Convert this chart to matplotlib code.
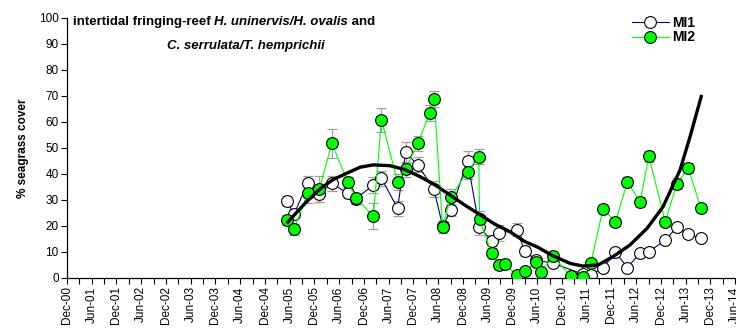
import pandas as pd
import matplotlib
matplotlib.use('Agg')
import matplotlib.pyplot as plt
import matplotlib.dates as mdates

plt.rcParams['font.family'] = ['Liberation Sans', 'DejaVu Sans']

# MI1 - даты обследований и покрытие (%)
mi1_dates = ['2005-05-10', '2005-07-04', '2005-10-12', '2006-01-07', '2006-04-07',
             '2006-08-03', '2006-10-04', '2007-02-09', '2007-04-10', '2007-08-07',
             '2007-10-05', '2008-01-01', '2008-05-01', '2008-07-04', '2008-09-04',
             '2009-01-04', '2009-04-01', '2009-07-01', '2009-08-27', '2010-01-03',
             '2010-03-01', '2010-05-25', '2010-09-29', '2011-05-05', '2011-07-04',
             '2011-10-01', '2012-01-01', '2012-03-29', '2012-06-30', '2012-09-01',
             '2013-01-02', '2013-03-29', '2013-06-22', '2013-09-22']
mi1_cover = [29.6, 24.6, 36.4, 32.3, 36.4, 32.6, 30.5, 35.8, 38.3, 26.8,
             48.3, 43.6, 34.2, 20.0, 26.0, 45.0, 19.5, 14.4, 17.2, 18.5,
             10.5, 6.9, 5.6, 1.5, 1.2, 3.9, 9.9, 4.0, 9.7, 10.1,
             14.5, 19.5, 16.8, 15.3]
mi1_err = [2, 2, 3, 3, 3, 2, 2, 3, 3, 3, 4, 3, 3, 2, 2, 4, 3, 2, 3, 2.5,
           2, 1, 1, 0.5, 0.5, 0.5, 1, 0.5, 1, 1, 1, 1, 1, 1]

# MI2
mi2_dates = ['2005-05-10', '2005-07-04', '2005-10-12', '2006-01-07', '2006-04-09',
             '2006-08-03', '2006-10-04', '2007-02-09', '2007-04-10', '2007-08-07',
             '2007-10-05', '2008-01-03', '2008-04-01', '2008-05-03', '2008-07-04',
             '2008-09-04', '2009-01-04', '2009-03-28', '2009-04-03', '2009-07-01',
             '2009-08-27', '2009-10-06', '2010-01-03', '2010-03-01', '2010-05-28',
             '2010-06-30', '2010-09-29', '2011-02-04', '2011-05-04', '2011-07-04',
             '2011-10-01', '2012-01-01', '2012-03-29', '2012-06-30', '2012-09-03',
             '2013-01-02', '2013-03-29', '2013-06-22', '2013-09-22']
mi2_cover = [22.3, 18.7, 32.8, 34.2, 51.8, 37.0, 30.6, 23.8, 60.8, 37.0,
             41.8, 51.8, 63.5, 68.8, 19.5, 31.3, 40.9, 46.7, 22.6, 9.5,
             5.0, 5.3, 1.2, 2.6, 6.0, 2.4, 8.3, 0.6, 0.5, 5.8,
             26.6, 21.6, 37.0, 29.3, 46.8, 21.6, 36.3, 42.2, 27.0]
mi2_err = [2, 2, 4, 5, 5.5, 2, 2, 5, 4.5, 3, 3, 3, 3, 3, 2, 3, 3, 3, 3, 2,
           1.5, 1.5, 1, 1, 1, 1, 1.5, 0.5, 0.5, 1, 1.5, 1.5, 2, 2, 2, 1.5, 2, 2, 1.5]

# линия тренда
trend_dates = ['2005-05-10', '2005-07-10', '2005-10-07', '2006-01-12', '2006-04-16',
               '2006-07-28', '2006-11-03', '2007-02-07', '2007-06-11', '2007-09-30',
               '2008-01-19', '2008-05-09', '2008-08-28', '2008-12-16', '2009-04-07',
               '2009-07-25', '2009-11-13', '2010-03-03', '2010-05-31', '2010-09-28',
               '2011-02-01', '2011-05-05', '2011-08-25', '2011-12-13', '2012-04-17',
               '2012-08-21', '2012-12-17', '2013-04-21', '2013-07-04', '2013-09-28']
trend_cover = [21.0, 24.5, 29.5, 34.3, 37.8, 40.3, 42.6, 43.5, 43.2, 41.7,
               39.0, 35.8, 31.9, 28.0, 24.3, 20.7, 17.8, 14.0, 12.0, 8.5,
               5.6, 4.6, 5.0, 8.2, 12.7, 19.1, 27.4, 41.5, 54.3, 70.4]

fig = plt.figure(figsize=(7.36, 3.29), dpi=100)
ax = fig.add_axes([67 / 736, 1 - 278 / 329, (735 - 67) / 736, (278 - 18) / 329])

d1 = pd.to_datetime(mi1_dates)
d2 = pd.to_datetime(mi2_dates)
dt = pd.to_datetime(trend_dates)

ax.errorbar(d1, mi1_cover, yerr=mi1_err, fmt='none', ecolor='#a0a0a0',
            elinewidth=0.9, capsize=3.5, capthick=0.9, zorder=1)
ax.errorbar(d2, mi2_cover, yerr=mi2_err, fmt='none', ecolor='#a0a0a0',
            elinewidth=0.9, capsize=3.5, capthick=0.9, zorder=1)
ax.plot(d1, mi1_cover, color='#000080', lw=0.8, marker='o', ms=8.5,
        mfc='white', mec='black', mew=0.8, label='MI1', zorder=2)
ax.plot(d2, mi2_cover, color='#00ff00', lw=0.8, marker='o', ms=8.5,
        mfc='#00ff00', mec='black', mew=0.8, label='MI2', zorder=3)
ax.plot(dt, trend_cover, color='black', lw=2.4, zorder=4, solid_capstyle='butt')

ax.set_xlim(pd.Timestamp('2000-12-01'), pd.Timestamp('2014-06-01'))
ax.set_ylim(0, 100)
ax.set_yticks(range(0, 101, 10))
ax.xaxis.set_major_locator(mdates.MonthLocator(bymonth=[6, 12]))
ax.xaxis.set_minor_locator(mdates.MonthLocator(bymonth=[3, 9]))
ax.xaxis.set_major_formatter(mdates.DateFormatter('%b-%y'))
ax.tick_params(axis='x', which='both', direction='out', length=4, width=0.8,
               labelrotation=90, labelsize=8.5, pad=2)
ax.tick_params(axis='y', direction='out', length=4, width=0.8, labelsize=8.5, pad=2)
for s in ['top', 'right']:
    ax.spines[s].set_visible(False)
for s in ['left', 'bottom']:
    ax.spines[s].set_linewidth(0.9)

ax.set_ylabel('% seagrass cover', fontsize=8.5, fontweight='bold', labelpad=7)

# заголовок из частей: обычный жирный + жирный курсив
t1 = fig.text(73 / 736, 1 - 22 / 329, 'intertidal fringing-reef ', fontsize=9.5,
              fontweight='bold', va='center', ha='left')
t2 = ax.annotate('H. uninervis/H. ovalis', xy=(1, 0), xycoords=t1, va='bottom',
                 fontsize=9.5, fontweight='bold', fontstyle='italic')
ax.annotate(' and', xy=(1, 0), xycoords=t2, va='bottom',
            fontsize=9.5, fontweight='bold')
fig.text(167 / 736, 1 - 46 / 329, 'C. serrulata/T. hemprichii', fontsize=9.5,
         fontweight='bold', fontstyle='italic', va='center', ha='left')

leg = ax.legend(loc='upper left', bbox_to_anchor=(622 / 736, 1 - 6 / 329),
                bbox_transform=fig.transFigure, frameon=False,
                prop={'weight': 'bold', 'size': 10}, handlelength=2.7,
                handletextpad=0.2, labelspacing=0.05, borderpad=0.2)

fig.savefig('out.png', dpi=100)
